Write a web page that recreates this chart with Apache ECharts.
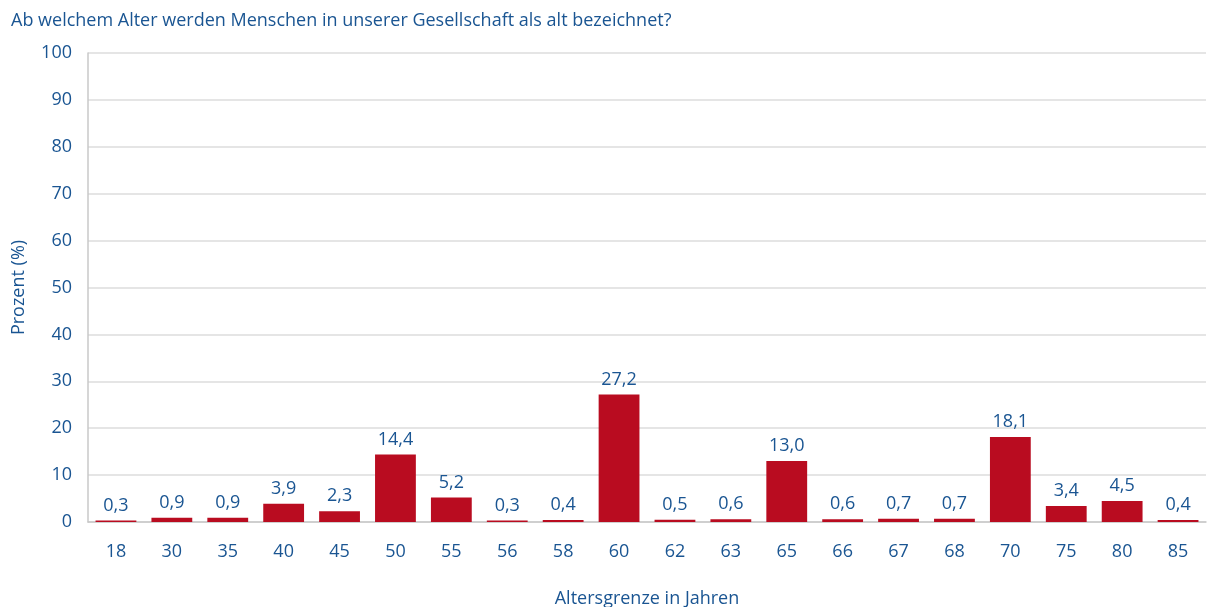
<!DOCTYPE html>
<html>
<head>
<meta charset="utf-8">
<script src="https://cdn.jsdelivr.net/npm/echarts@6/dist/echarts.min.js"></script>
<style>
  html, body { margin: 0; padding: 0; background: #fff; }
  #chart { width: 1211px; height: 607px; }
</style>
</head>
<body>
<div id="chart"></div>
<script>
// Daten
var ages = ['18', '30', '35', '40', '45', '50', '55', '56', '58', '60', '62', '63', '65', '66', '67', '68', '70', '75', '80', '85'];
var percent = [0.3, 0.9, 0.9, 3.9, 2.3, 14.4, 5.2, 0.3, 0.4, 27.2, 0.5, 0.6, 13.0, 0.6, 0.7, 0.7, 18.1, 3.4, 4.5, 0.4];

var blue = '#1a5592';
var red = '#b90c20';
var font = 'Open Sans';

var chart = echarts.init(document.getElementById('chart'));
chart.setOption({
  animation: false,
  title: {
    text: 'Ab welchem Alter werden Menschen in unserer Gesellschaft als alt bezeichnet?',
    left: 6,
    top: 7,
    textStyle: { color: blue, fontFamily: font, fontSize: 18, fontWeight: 'normal' }
  },
  grid: { left: 88, right: 5, top: 53, bottom: 85, outerBoundsMode: 'none' },
  xAxis: {
    type: 'category',
    data: ages,
    name: 'Altersgrenze in Jahren',
    nameLocation: 'middle',
    nameGap: 68,
    nameTextStyle: { color: blue, fontFamily: font, fontSize: 18 },
    axisLine: { lineStyle: { color: '#c8c8c8', width: 1.5 } },
    axisTick: { show: false },
    axisLabel: { color: blue, fontFamily: font, fontSize: 18, margin: 21 }
  },
  yAxis: {
    type: 'value',
    min: 0,
    max: 100,
    interval: 10,
    name: 'Prozent (%)',
    nameLocation: 'middle',
    nameGap: 60,
    nameTextStyle: { color: blue, fontFamily: font, fontSize: 18 },
    axisLine: { show: true, lineStyle: { color: '#c8c8c8', width: 1.5 } },
    axisLabel: { color: blue, fontFamily: font, fontSize: 18, margin: 16 },
    splitLine: { lineStyle: { color: '#dcdcdc', width: 1.5 } }
  },
  series: [{
    type: 'bar',
    data: percent,
    barWidth: '73%',
    itemStyle: { color: red },
    label: {
      show: true,
      position: 'top',
      distance: 6,
      color: blue,
      fontFamily: font,
      fontSize: 18,
      formatter: function (p) { return p.value.toFixed(1).replace('.', ','); }
    }
  }]
});
</script>
</body>
</html>
